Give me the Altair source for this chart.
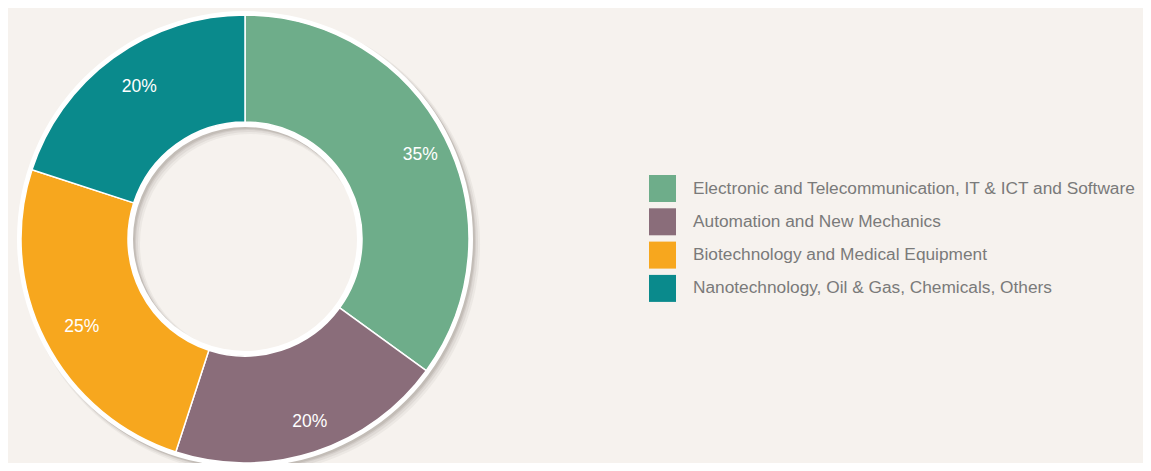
import altair as alt
import pandas as pd

categories = [
    "Electronic and Telecommunication, IT & ICT and Software",
    "Automation and New Mechanics",
    "Biotechnology and Medical Equipment",
    "Nanotechnology, Oil & Gas, Chemicals, Others",
]
values = [35, 20, 25, 20]
colors = ["#6EAD8A", "#8A6D7A", "#F7A71E", "#0A8A8C"]

BG = "#F6F2EE"
CX, CY = 237, 231
FULL = 6.2832

df = pd.DataFrame({
    "category": categories,
    "value": values,
    "order": list(range(len(categories))),
    "label": [f"{v}%" for v in values],
})
ring_df = pd.DataFrame({"value": [1]})

color_scale = alt.Scale(domain=categories, range=colors)

shadows = []
for off, op, extra in [(5, 0.06, 2), (4, 0.08, 1), (3, 0.10, 0), (2, 0.12, 0)]:
    shadows.append(
        alt.Chart(ring_df).mark_arc(innerRadius=112 - extra, outerRadius=228 + extra,
                                    color="#5a4f45", opacity=op)
        .encode(theta=alt.value(0), theta2=alt.value(FULL),
                x=alt.value(CX + off), y=alt.value(CY + off))
    )

white_ring = alt.Chart(ring_df).mark_arc(innerRadius=112, outerRadius=228, color="white").encode(
    theta=alt.value(0), theta2=alt.value(FULL), x=alt.value(CX), y=alt.value(CY)
)

base = alt.Chart(df).encode(
    theta=alt.Theta("value:Q", stack=True),
    order=alt.Order("order:Q"),
)

arcs = base.mark_arc(innerRadius=117, outerRadius=224, stroke="white", strokeWidth=1.5).encode(
    x=alt.value(CX),
    y=alt.value(CY),
    color=alt.Color(
        "category:N",
        scale=color_scale,
        sort=categories,
        legend=alt.Legend(
            title=None,
            orient="none",
            legendX=641,
            legendY=167,
            symbolType="square",
            symbolSize=729,
            symbolStrokeWidth=0,
            symbolOpacity=1,
            labelFontSize=17.3,
            labelFont="Liberation Sans",
            labelColor="#7a7a7a",
            labelOffset=17,
            rowPadding=6.3,
            labelLimit=600,
            padding=0,
        ),
    ),
)

labels = base.mark_text(radius=190, fontSize=17.5, font="Liberation Sans", color="white").encode(
    x=alt.value(CX + 6),
    y=alt.value(CY + 2),
    text="label:N",
)

chart = (
    alt.layer(*shadows, white_ring, arcs, labels)
    .properties(width=1135, height=455, autosize=alt.AutoSizeParams(type="none"), padding=0,
                background=BG)
    .configure_view(stroke=None)
)

chart.save("out.html", embed_options={"renderer": "svg", "actions": False})
